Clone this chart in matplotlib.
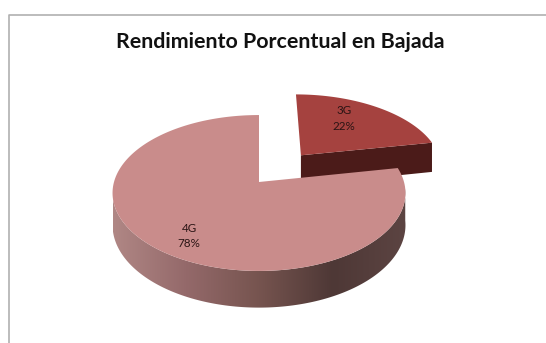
import numpy as np
import matplotlib
matplotlib.use("Agg")
import matplotlib.pyplot as plt
from matplotlib.colors import LinearSegmentedColormap
from matplotlib.patches import Polygon

title = "Rendimiento Porcentual en Bajada"
labels = ["3G", "4G"]
values = [22, 78]

# colores
top_3g = "#a5423f"
cut_3g = "#4b1b19"
top_4g = "#c98c8b"
side_4g = ["#b08785", "#94696a", "#76544f", "#4e3836", "#5c4442"]
frame_color = "#b0b0b0"
text_color = "#2a1414"

# geometria del pie en pixeles
cx, cy = 259, 182
rx, ry = 145, 76.4
persp = 0.141
depth = 31.5
explode = 0.477


def project(x, y):
    # circulo unidad -> elipse con perspectiva
    w = 1 + persp * y
    return cx + rx * x / w, cy - ry * y / w, depth / w


def arc(start, end, off=(0, 0), n=200):
    t = np.radians(np.linspace(start, end, n))
    return project(np.sin(t) + off[0], np.cos(t) + off[1])


fig = plt.figure(figsize=(5.46, 3.43), dpi=100)
ax = fig.add_axes([0, 0, 1, 1])
ax.set_xlim(0, 546)
ax.set_ylim(343, 0)
ax.axis("off")

# marco del grafico
ax.plot([546, 9, 9], [15, 15, 343], color=frame_color, lw=1.2)

sweep = 360 * values[0] / sum(values)
mid = np.radians(sweep / 2)
off = (explode * np.sin(mid), explode * np.cos(mid))

# porcion 3G separada
tip_x, tip_y, tip_d = project(off[0], off[1])
ax_3g, ay_3g, ad_3g = arc(0, sweep, off)
cut_x = [tip_x, ax_3g[-1], ax_3g[-1], tip_x]
cut_y = [tip_y, ay_3g[-1], ay_3g[-1] + ad_3g[-1], tip_y + tip_d]
ax.add_patch(Polygon(np.column_stack([cut_x, cut_y]), fc=cut_3g, ec="none"))
ax.add_patch(Polygon(np.column_stack([np.r_[tip_x, ax_3g], np.r_[tip_y, ay_3g]]),
                     fc=top_3g, ec="none"))

# lateral de la porcion 4G con degradado
sx, sy, sd = arc(95, 265)
side = Polygon(np.column_stack([np.r_[sx, sx[::-1]], np.r_[sy, (sy + sd)[::-1]]]),
               fc="none", ec="none")
ax.add_patch(side)
cmap = LinearSegmentedColormap.from_list("lado", side_4g)
grad = np.linspace(0, 1, 256)[np.newaxis, :]
img = ax.imshow(grad, extent=[sx.min(), sx.max(), (sy + sd).max(), sy.min()],
                cmap=cmap, aspect="auto", zorder=2)
img.set_clip_path(side)

# cara superior 4G
bx, by, _ = arc(sweep, 360)
ax.add_patch(Polygon(np.column_stack([np.r_[cx, bx], np.r_[cy, by]]),
                     fc=top_4g, ec="none", zorder=3))

ax.set_xlim(0, 546)
ax.set_ylim(343, 0)

# textos
ax.text(280, 41.5, title, ha="center", va="center", fontsize=15.4,
        family="Lato", weight="bold", color="#111111", zorder=5)
ax.text(344, 118.5, f"{labels[0]}\n{values[0]}%", ha="center", va="center",
        fontsize=8.4, family="Lato", color=text_color, linespacing=1.5, zorder=5)
ax.text(189, 236, f"{labels[1]}\n{values[1]}%", ha="center", va="center",
        fontsize=8.4, family="Lato", color=text_color, linespacing=1.5, zorder=5)

fig.savefig("out.png", dpi=100, facecolor="white")
